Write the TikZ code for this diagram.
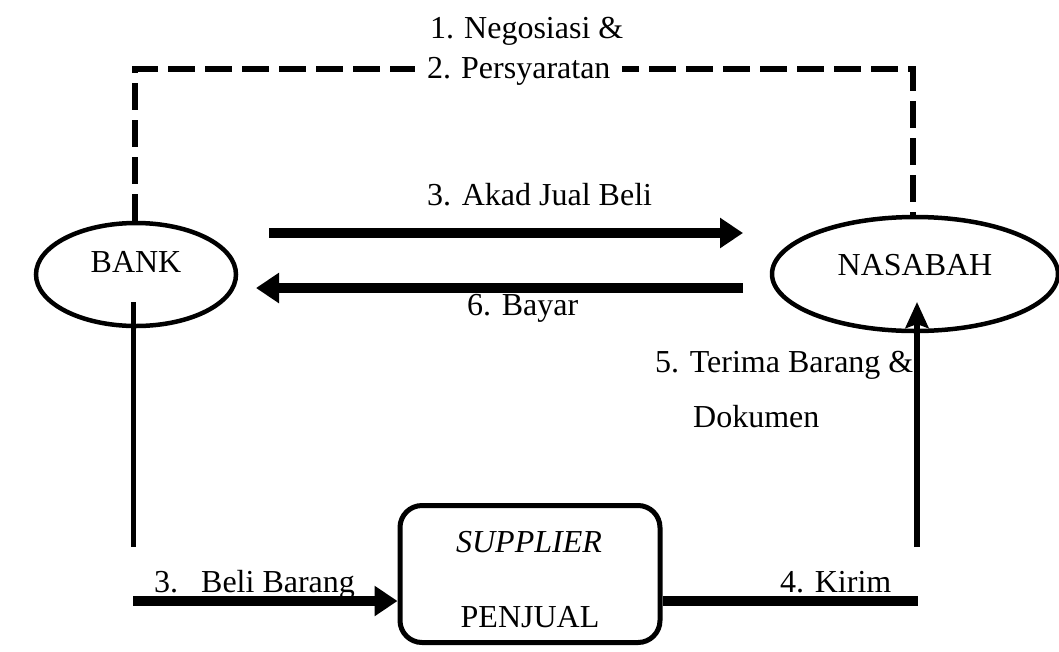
\documentclass[tikz,border=0pt]{standalone}
\usepackage{fontspec}
\setmainfont{Liberation Serif}
\usetikzlibrary{arrows.meta,shapes.geometric}
\begin{document}
\begin{tikzpicture}[x=1pt,y=-1pt,
  txt/.style={font=\fontsize{32}{38}\selectfont, inner sep=0pt},
  lbl/.style={txt, anchor=base west},
  party/.style={txt, ellipse, draw, line width=4.5pt},
  firm/.style={draw, rectangle, rounded corners=22pt, line width=5pt,
               minimum width=260pt, minimum height=137pt},
  nego/.style={line width=6pt, dash pattern=on 27pt off 10pt},
  goods/.style={line width=9.5pt},
  bigarrow/.style={goods, -{Triangle[length=23pt,width=29pt]}},
  rail/.style={line width=5.5pt},
  railarrow/.style={rail, -{Stealth[length=26pt,width=23pt,inset=4pt]}},
]
\useasboundingbox (0,0) rectangle (1059,651);

% parties
\node[party, minimum width=200pt, minimum height=103pt,
      text height=10pt, text depth=15pt] (bank) at (136,274.5) {BANK};
\node[party, minimum width=286pt, minimum height=114pt,
      text height=13pt, text depth=11pt] (nasabah) at (915,274) {NASABAH};
\node[firm] (supplier) at (530,574) {};
\node[lbl, anchor=base] (supname) at (529,552) {\itshape SUPPLIER};
\node[lbl, anchor=base] (penjual) at (530,627) {PENJUAL};

% negotiation loop over the top
\coordinate (negoL) at (135,69);
\coordinate (negoR) at (913,69);
\draw[nego] (bank.north -| negoL) -- (negoL) -- (negoR) -- (nasabah.north -| negoR);
\node[lbl] (negoA) at (430,38) {1.\hspace{10pt}Negosiasi \&};
\node[lbl, fill=white, inner xsep=12pt, inner ysep=3pt] (negoB) at (415,78)
     {2.\hspace{10pt}Persyaratan};

% contract and payment
\coordinate (akadS) at (269,233);
\coordinate (akadE) at (743,233);
\draw[bigarrow] (akadS) -- (akadE);
\node[lbl] (akad) at (427,205) {3. Akad Jual Beli};
\coordinate (bayarS) at (743,288);
\coordinate (bayarE) at (256,288);
\draw[bigarrow] (bayarS) -- (bayarE);
\node[lbl] (bayar) at (467,315) {6. Bayar};

% bank buys from the supplier
\coordinate (bankIn) at (133.5,302);
\coordinate (bankFoot) at (133.5,547);
\draw[rail] (bankIn) -- (bankFoot);
\coordinate (buyS) at (133,601);
\draw[bigarrow] (buyS) -- (buyS -| supplier.west);
\node[lbl] (beli) at (154,592) {3.\hspace{23pt}Beli Barang};

% supplier delivers to the customer
\coordinate (kirimE) at (918,601);
\draw[goods] (supplier.east |- buyS) -- (kirimE);
\node[lbl] (kirim) at (780,592) {4. Kirim};
\coordinate (nasFoot) at (917,547);
\coordinate (nasIn) at (917,302);
\draw[railarrow] (nasFoot) -- (nasIn);
\node[lbl] (terima) at (655,372) {5. Terima Barang \&};
\node[lbl] (dokumen) at (693,427) {Dokumen};
\end{tikzpicture}
\end{document}
